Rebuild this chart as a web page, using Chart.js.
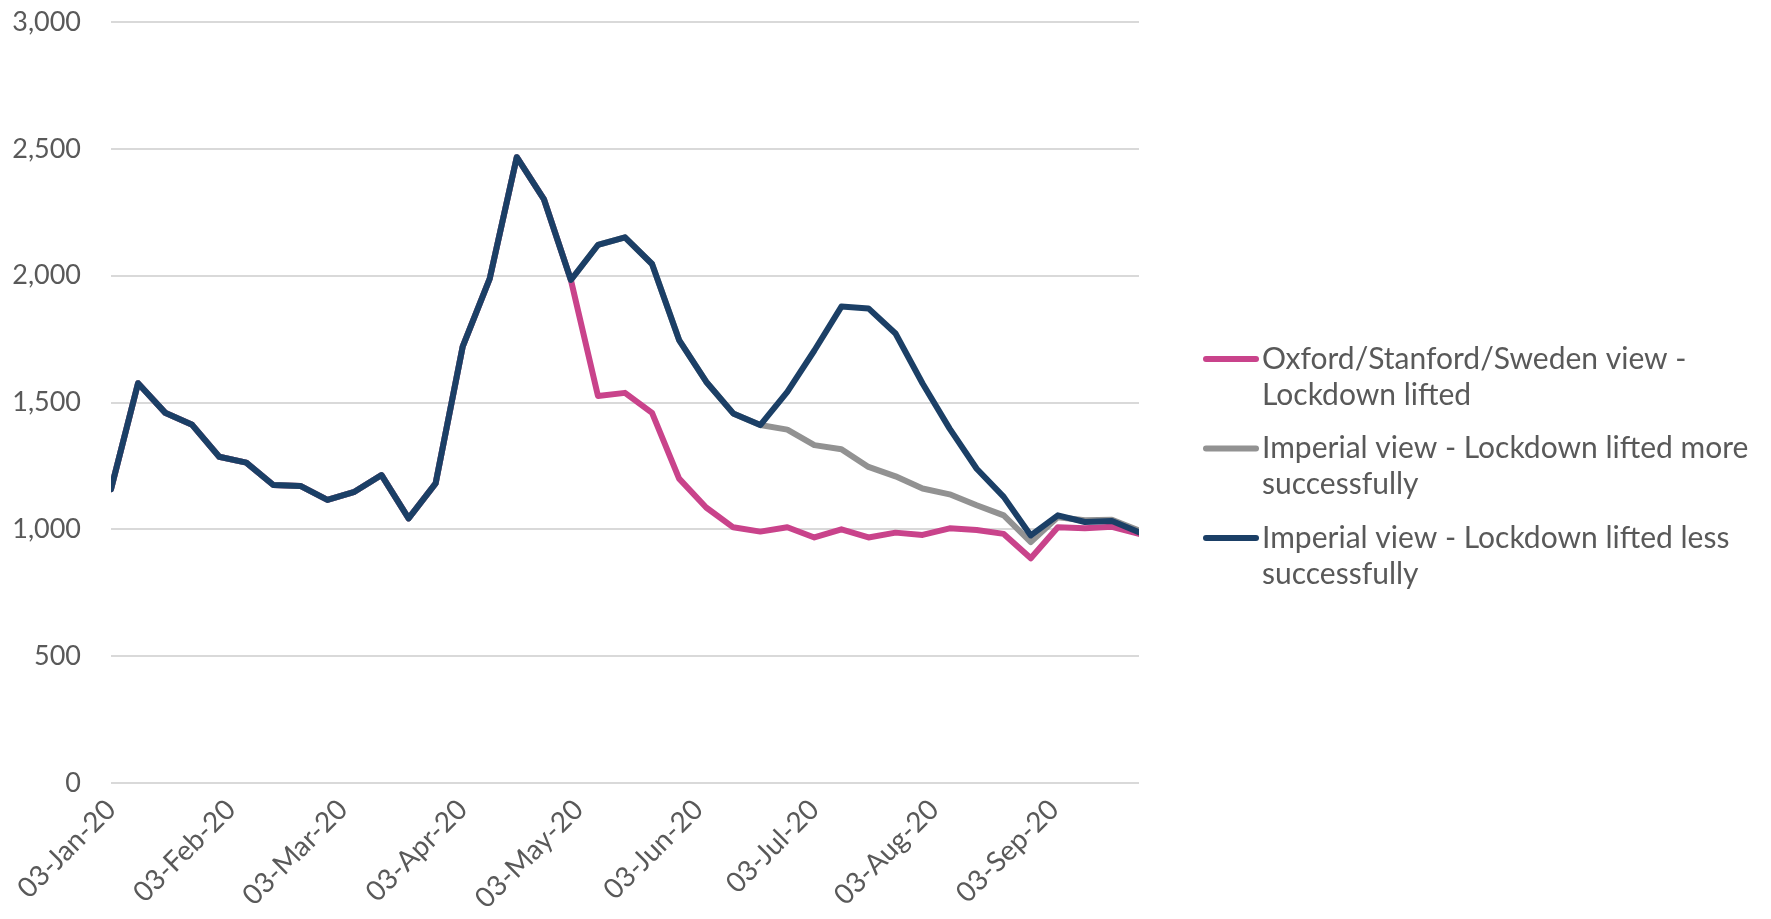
<!DOCTYPE html>
<html>
<head>
<meta charset="utf-8">
<script src="https://cdn.jsdelivr.net/npm/chart.js@4.4.1/dist/chart.umd.min.js"></script>
<style>
  html, body { margin: 0; padding: 0; background: #fff; }
  #wrap { width: 1771px; height: 919px; }
</style>
</head>
<body>
<div id="wrap"><canvas id="chart"></canvas></div>
<script>
// weekly dates of the series
const weeks = [
    '2020-01-03', '2020-01-10', '2020-01-17', '2020-01-24', '2020-01-31',
    '2020-02-07', '2020-02-14', '2020-02-21', '2020-02-28', '2020-03-06',
    '2020-03-13', '2020-03-20', '2020-03-27', '2020-04-03', '2020-04-10',
    '2020-04-17', '2020-04-24', '2020-05-01', '2020-05-08', '2020-05-15',
    '2020-05-22', '2020-05-29', '2020-06-05', '2020-06-12', '2020-06-19',
    '2020-06-26', '2020-07-03', '2020-07-10', '2020-07-17', '2020-07-24',
    '2020-07-31', '2020-08-07', '2020-08-14', '2020-08-21', '2020-08-28',
    '2020-09-04', '2020-09-11', '2020-09-18', '2020-09-25'
];

const oxfordValues = [
    1158, 1576, 1460, 1412, 1286, 1263, 1175, 1171, 1116, 1148,
    1214, 1043, 1181, 1720, 1988, 2467, 2302, 1983, 1526, 1538,
    1459, 1200, 1086, 1008, 991, 1008, 968, 1000, 968, 987,
    978, 1004, 997, 982, 886, 1008, 1004, 1010, 982
];

const imperialMoreValues = [
    1158, 1576, 1460, 1412, 1286, 1263, 1175, 1171, 1116, 1148,
    1214, 1043, 1181, 1720, 1988, 2467, 2302, 1983, 2121, 2151,
    2046, 1746, 1582, 1457, 1411, 1393, 1332, 1316, 1246, 1209,
    1161, 1138, 1095, 1055, 950, 1048, 1036, 1038, 995
];

const imperialLessValues = [
    1158, 1576, 1460, 1412, 1286, 1263, 1175, 1171, 1116, 1148,
    1214, 1043, 1181, 1720, 1988, 2467, 2302, 1983, 2121, 2151,
    2046, 1746, 1582, 1457, 1411, 1542, 1705, 1878, 1871, 1772,
    1575, 1397, 1239, 1128, 976, 1055, 1029, 1033, 989
];

const legendLines = [
    ['Oxford/Stanford/Sweden view -', 'Lockdown lifted'],
    ['Imperial view - Lockdown lifted more', 'successfully'],
    ['Imperial view - Lockdown lifted less', 'successfully']
];
const seriesColors = ['#c9438b', '#929292', '#1b3f66'];

const tickDates = [
    '2020-01-03', '2020-02-03', '2020-03-03', '2020-04-03', '2020-05-03',
    '2020-06-03', '2020-07-03', '2020-08-03', '2020-09-03'
];
const tickLabels = [
    '03-Jan-20', '03-Feb-20', '03-Mar-20', '03-Apr-20', '03-May-20',
    '03-Jun-20', '03-Jul-20', '03-Aug-20', '03-Sep-20'
];
const yTicks = [0, 500, 1000, 1500, 2000, 2500, 3000];

const DAY = 86400000;
const start = Date.parse(weeks[0]);
const toDay = (d) => Math.round((Date.parse(d) - start) / DAY);
const tickDays = tickDates.map(toDay);

const toPoints = (values) => values.map((v, i) => ({ x: toDay(weeks[i]), y: v }));

const FONT = 'Lato, "Open Sans", sans-serif';
const TEXT = '#595959';

const legendPlugin = {
    id: 'sideLegend',
    afterDraw(chart) {
        const ctx = chart.ctx;
        const area = chart.chartArea;
        const x0 = area.right + 64;
        let y = area.top + 337;
        ctx.save();
        ctx.font = '30px ' + FONT;
        ctx.textBaseline = 'middle';
        ctx.textAlign = 'left';
        legendLines.forEach((lines, i) => {
            ctx.strokeStyle = seriesColors[i];
            ctx.lineWidth = 6;
            ctx.lineCap = 'round';
            ctx.beginPath();
            ctx.moveTo(x0 + 3, y);
            ctx.lineTo(x0 + 53, y);
            ctx.stroke();
            ctx.fillStyle = TEXT;
            lines.forEach((line, j) => {
                ctx.fillText(line, x0 + 59, y + j * 36);
            });
            y += 89.5;
        });
        ctx.restore();
    }
};

const lineStyle = (color) => ({
    borderColor: color,
    backgroundColor: color,
    borderWidth: 6,
    pointRadius: 0,
    tension: 0,
    fill: false,
    borderCapStyle: 'round',
    borderJoinStyle: 'round'
});

const ctx = document.getElementById('chart').getContext('2d');

const chart = new Chart(ctx, { // eslint-disable-line
    type: 'line',
    data: {
        datasets: [
            Object.assign({ label: legendLines[2].join(' '), data: toPoints(imperialLessValues) }, lineStyle(seriesColors[2])),
            Object.assign({ label: legendLines[1].join(' '), data: toPoints(imperialMoreValues) }, lineStyle(seriesColors[1])),
            Object.assign({ label: legendLines[0].join(' '), data: toPoints(oxfordValues) }, lineStyle(seriesColors[0]))
        ]
    },
    options: {
        responsive: true,
        maintainAspectRatio: false,
        animation: false,
        layout: {
            padding: { left: 0, top: 22, right: 632, bottom: 0 }
        },
        plugins: {
            legend: { display: false },
            tooltip: { enabled: false }
        },
        scales: {
            x: {
                type: 'linear',
                min: 0,
                max: toDay(weeks[weeks.length - 1]),
                grid: { display: false, drawTicks: false },
                border: { display: false },
                afterBuildTicks: (scale) => {
                    scale.ticks = tickDays.map(v => ({ value: v }));
                },
                afterFit: (scale) => { scale.height = 136; },
                ticks: {
                    autoSkip: false,
                    minRotation: 45,
                    maxRotation: 45,
                    padding: 10,
                    color: TEXT,
                    font: { family: FONT, size: 28 },
                    callback: (v) => {
                        const k = tickDays.indexOf(v);
                        return k >= 0 ? tickLabels[k] : '';
                    }
                }
            },
            y: {
                min: 0,
                max: 3000,
                grid: { color: '#d9d9d9', lineWidth: 2, drawTicks: false },
                border: { display: false },
                afterBuildTicks: (scale) => {
                    scale.ticks = yTicks.map(v => ({ value: v }));
                },
                afterFit: (scale) => {
                    scale.width = 111;
                    scale.paddingTop = 0;
                    scale.paddingBottom = 0;
                },
                ticks: {
                    padding: 30,
                    color: TEXT,
                    font: { family: FONT, size: 27 },
                    callback: (v) => v.toLocaleString('en-US')
                }
            }
        }
    },
    plugins: [legendPlugin]
});
</script>
</body>
</html>
